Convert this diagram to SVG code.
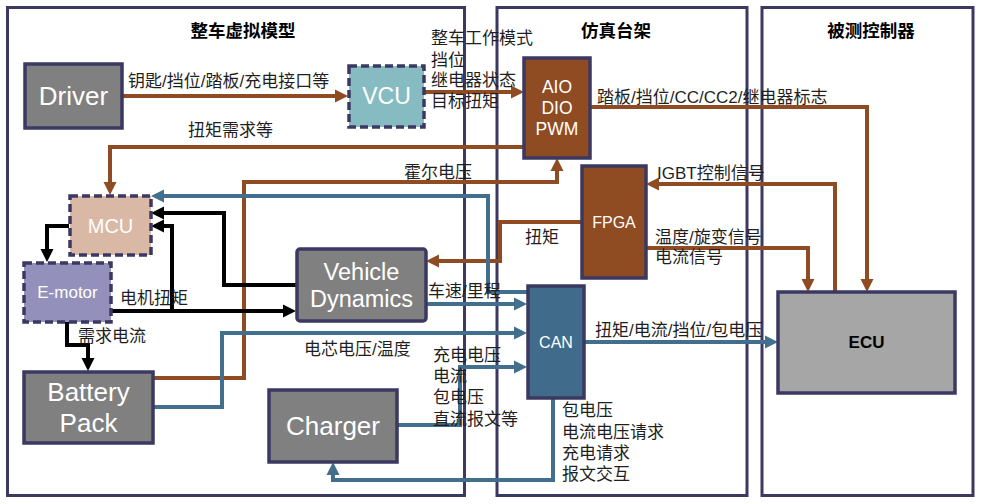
<svg xmlns="http://www.w3.org/2000/svg" width="983" height="504" viewBox="0 0 983 504">
<style>
.panel{fill:none;stroke:#3b3862;stroke-width:3}
.box{stroke:#3b3862;stroke-width:3.5}
.dash{stroke:#3b3862;stroke-width:3.5;stroke-dasharray:8 4}
.br{fill:none;stroke:#8f4b22;stroke-width:4;marker-end:url(#mb)}
.bl{fill:none;stroke:#426f8d;stroke-width:4;marker-end:url(#mu)}
.bk{fill:none;stroke:#000;stroke-width:4;marker-end:url(#mk)}
.nl{font-family:"Liberation Sans",Arial,sans-serif;fill:#fff;text-anchor:middle;dominant-baseline:central}
.lb{font-family:"Liberation Sans","Noto Sans CJK SC",sans-serif;font-size:17px;fill:#1f1f1f;dominant-baseline:central}
.tt{font-family:"Liberation Sans","Noto Sans CJK SC",sans-serif;font-size:17.5px;font-weight:bold;fill:#000;text-anchor:middle;dominant-baseline:central}
</style>
<defs>
<marker id="mb" markerWidth="14" markerHeight="14" refX="3" refY="7" orient="auto" markerUnits="userSpaceOnUse"><path d="M0,0.5 L13,7 L0,13.5 z" fill="#8f4b22"/></marker>
<marker id="mu" markerWidth="14" markerHeight="14" refX="3" refY="7" orient="auto" markerUnits="userSpaceOnUse"><path d="M0,0.5 L13,7 L0,13.5 z" fill="#426f8d"/></marker>
<marker id="mk" markerWidth="14" markerHeight="14" refX="3" refY="7" orient="auto" markerUnits="userSpaceOnUse"><path d="M0,0.5 L13,7 L0,13.5 z" fill="#000"/></marker>
</defs>
<rect width="983" height="504" fill="#fff"/>
<g id="panels">
<rect class="panel" x="7.5" y="7.5" width="457" height="488"/>
<rect class="panel" x="497" y="7.5" width="250" height="488"/>
<rect class="panel" x="762" y="7.5" width="211" height="488"/>
<text class="tt" x="243" y="31">整车虚拟模型</text>
<text class="tt" x="616" y="31">仿真台架</text>
<text class="tt" x="871" y="31">被测控制器</text>
</g>
<g id="connectors">
<path class="br" d="M122,96 H338"/>
<path class="br" d="M424,92 H514"/>
<path class="br" d="M590,107 H867 V282"/>
<path class="br" d="M524,147 H110 V185"/>
<path class="br" d="M153,378 H244 V182 H557 V168"/>
<path class="br" d="M835,292 V184 H656"/>
<path class="br" d="M646,248 H808 V282"/>
<path class="br" d="M581,222 H500 V261 H436"/>
<path class="bl" d="M527,292 H488 V196 H161"/>
<path class="bl" d="M426,304 H517"/>
<path class="bl" d="M153,407 H222 V333 H517"/>
<path class="bl" d="M397,425 H460 V367 H517"/>
<path class="bl" d="M553,398 V480 H333 V472"/>
<path class="bl" d="M584,342 H768"/>
<path class="bk" d="M69,226 H47 V252"/>
<path class="bk" d="M296,285 H224 V213 H161"/>
<path class="bk" d="M172,311 V226 H161"/>
<path class="bk" d="M111,311 H286"/>
<path class="bk" d="M67,322 V345 H88 V361"/>
</g>
<g id="driver">
<rect class="box" x="25" y="64" width="97" height="64" fill="#808080"/>
<text class="nl" x="73.5" y="96" font-size="26">Driver</text>
</g>
<g id="vcu">
<rect class="dash" x="349" y="66" width="75" height="61" fill="#86bcc1"/>
<text class="nl" x="386.5" y="96" font-size="23">VCU</text>
</g>
<g id="aio">
<rect class="box" x="524" y="58" width="66" height="100" fill="#8f4b22"/>
<text class="nl" x="557" y="87" font-size="17.5">AIO</text>
<text class="nl" x="557" y="108" font-size="17.5">DIO</text>
<text class="nl" x="557" y="129" font-size="17.5">PWM</text>
</g>
<g id="fpga">
<rect class="box" x="582" y="166" width="64" height="112" fill="#8f4b22"/>
<text class="nl" x="614" y="222" font-size="16">FPGA</text>
</g>
<g id="mcu">
<rect class="dash" x="70" y="196" width="81" height="59" fill="#d9b9a5"/>
<text class="nl" x="110.5" y="226" font-size="20">MCU</text>
</g>
<g id="emotor">
<rect class="dash" x="24" y="263" width="87" height="59" fill="#9391bb"/>
<text class="nl" x="67.5" y="292" font-size="17">E-motor</text>
</g>
<g id="vehicle-dynamics">
<rect class="box" x="297" y="249" width="129" height="72" rx="3" fill="#808080"/>
<text class="nl" x="361.5" y="272" font-size="23.5">Vehicle</text>
<text class="nl" x="361.5" y="299" font-size="23.5">Dynamics</text>
</g>
<g id="battery">
<rect class="box" x="24" y="372" width="129" height="71" fill="#808080"/>
<text class="nl" x="88.5" y="392" font-size="26">Battery</text>
<text class="nl" x="88.5" y="423" font-size="26">Pack</text>
</g>
<g id="charger">
<rect class="box" x="269" y="390" width="128" height="72" fill="#808080"/>
<text class="nl" x="333" y="426" font-size="26">Charger</text>
</g>
<g id="can">
<rect class="box" x="528" y="286" width="56" height="112" fill="#416b8a"/>
<text class="nl" x="556" y="342" font-size="16">CAN</text>
</g>
<g id="ecu">
<rect class="box" x="778" y="292" width="177" height="101" fill="#a6a6a6"/>
<text class="nl" x="866.5" y="342" font-size="17" font-weight="bold" style="fill:#000">ECU</text>
</g>
<g id="labels">
<text class="lb" x="128" y="81">钥匙/挡位/踏板/充电接口等</text>
<text class="lb" x="431" y="38">整车工作模式</text>
<text class="lb" x="431" y="60">挡位</text>
<text class="lb" x="431" y="80">继电器状态</text>
<text class="lb" x="431" y="101">目标扭矩</text>
<text class="lb" x="597" y="97">踏板/挡位/CC/CC2/继电器标志</text>
<text class="lb" x="188" y="130">扭矩需求等</text>
<text class="lb" x="404" y="172">霍尔电压</text>
<text class="lb" x="657" y="173">IGBT控制信号</text>
<text class="lb" x="525" y="237">扭矩</text>
<text class="lb" x="655" y="237">温度/旋变信号</text>
<text class="lb" x="655" y="257">电流信号</text>
<text class="lb" x="428" y="291">车速/里程</text>
<text class="lb" x="120" y="298">电机扭矩</text>
<text class="lb" x="78" y="336">需求电流</text>
<text class="lb" x="304" y="349">电芯电压/温度</text>
<text class="lb" x="595" y="330">扭矩/电流/挡位/包电压</text>
<text class="lb" x="433" y="355">充电电压</text>
<text class="lb" x="433" y="376">电流</text>
<text class="lb" x="433" y="397">包电压</text>
<text class="lb" x="433" y="419">直流报文等</text>
<text class="lb" x="562" y="410">包电压</text>
<text class="lb" x="562" y="432">电流电压请求</text>
<text class="lb" x="562" y="453">充电请求</text>
<text class="lb" x="562" y="474">报文交互</text>
</g>
</svg>
